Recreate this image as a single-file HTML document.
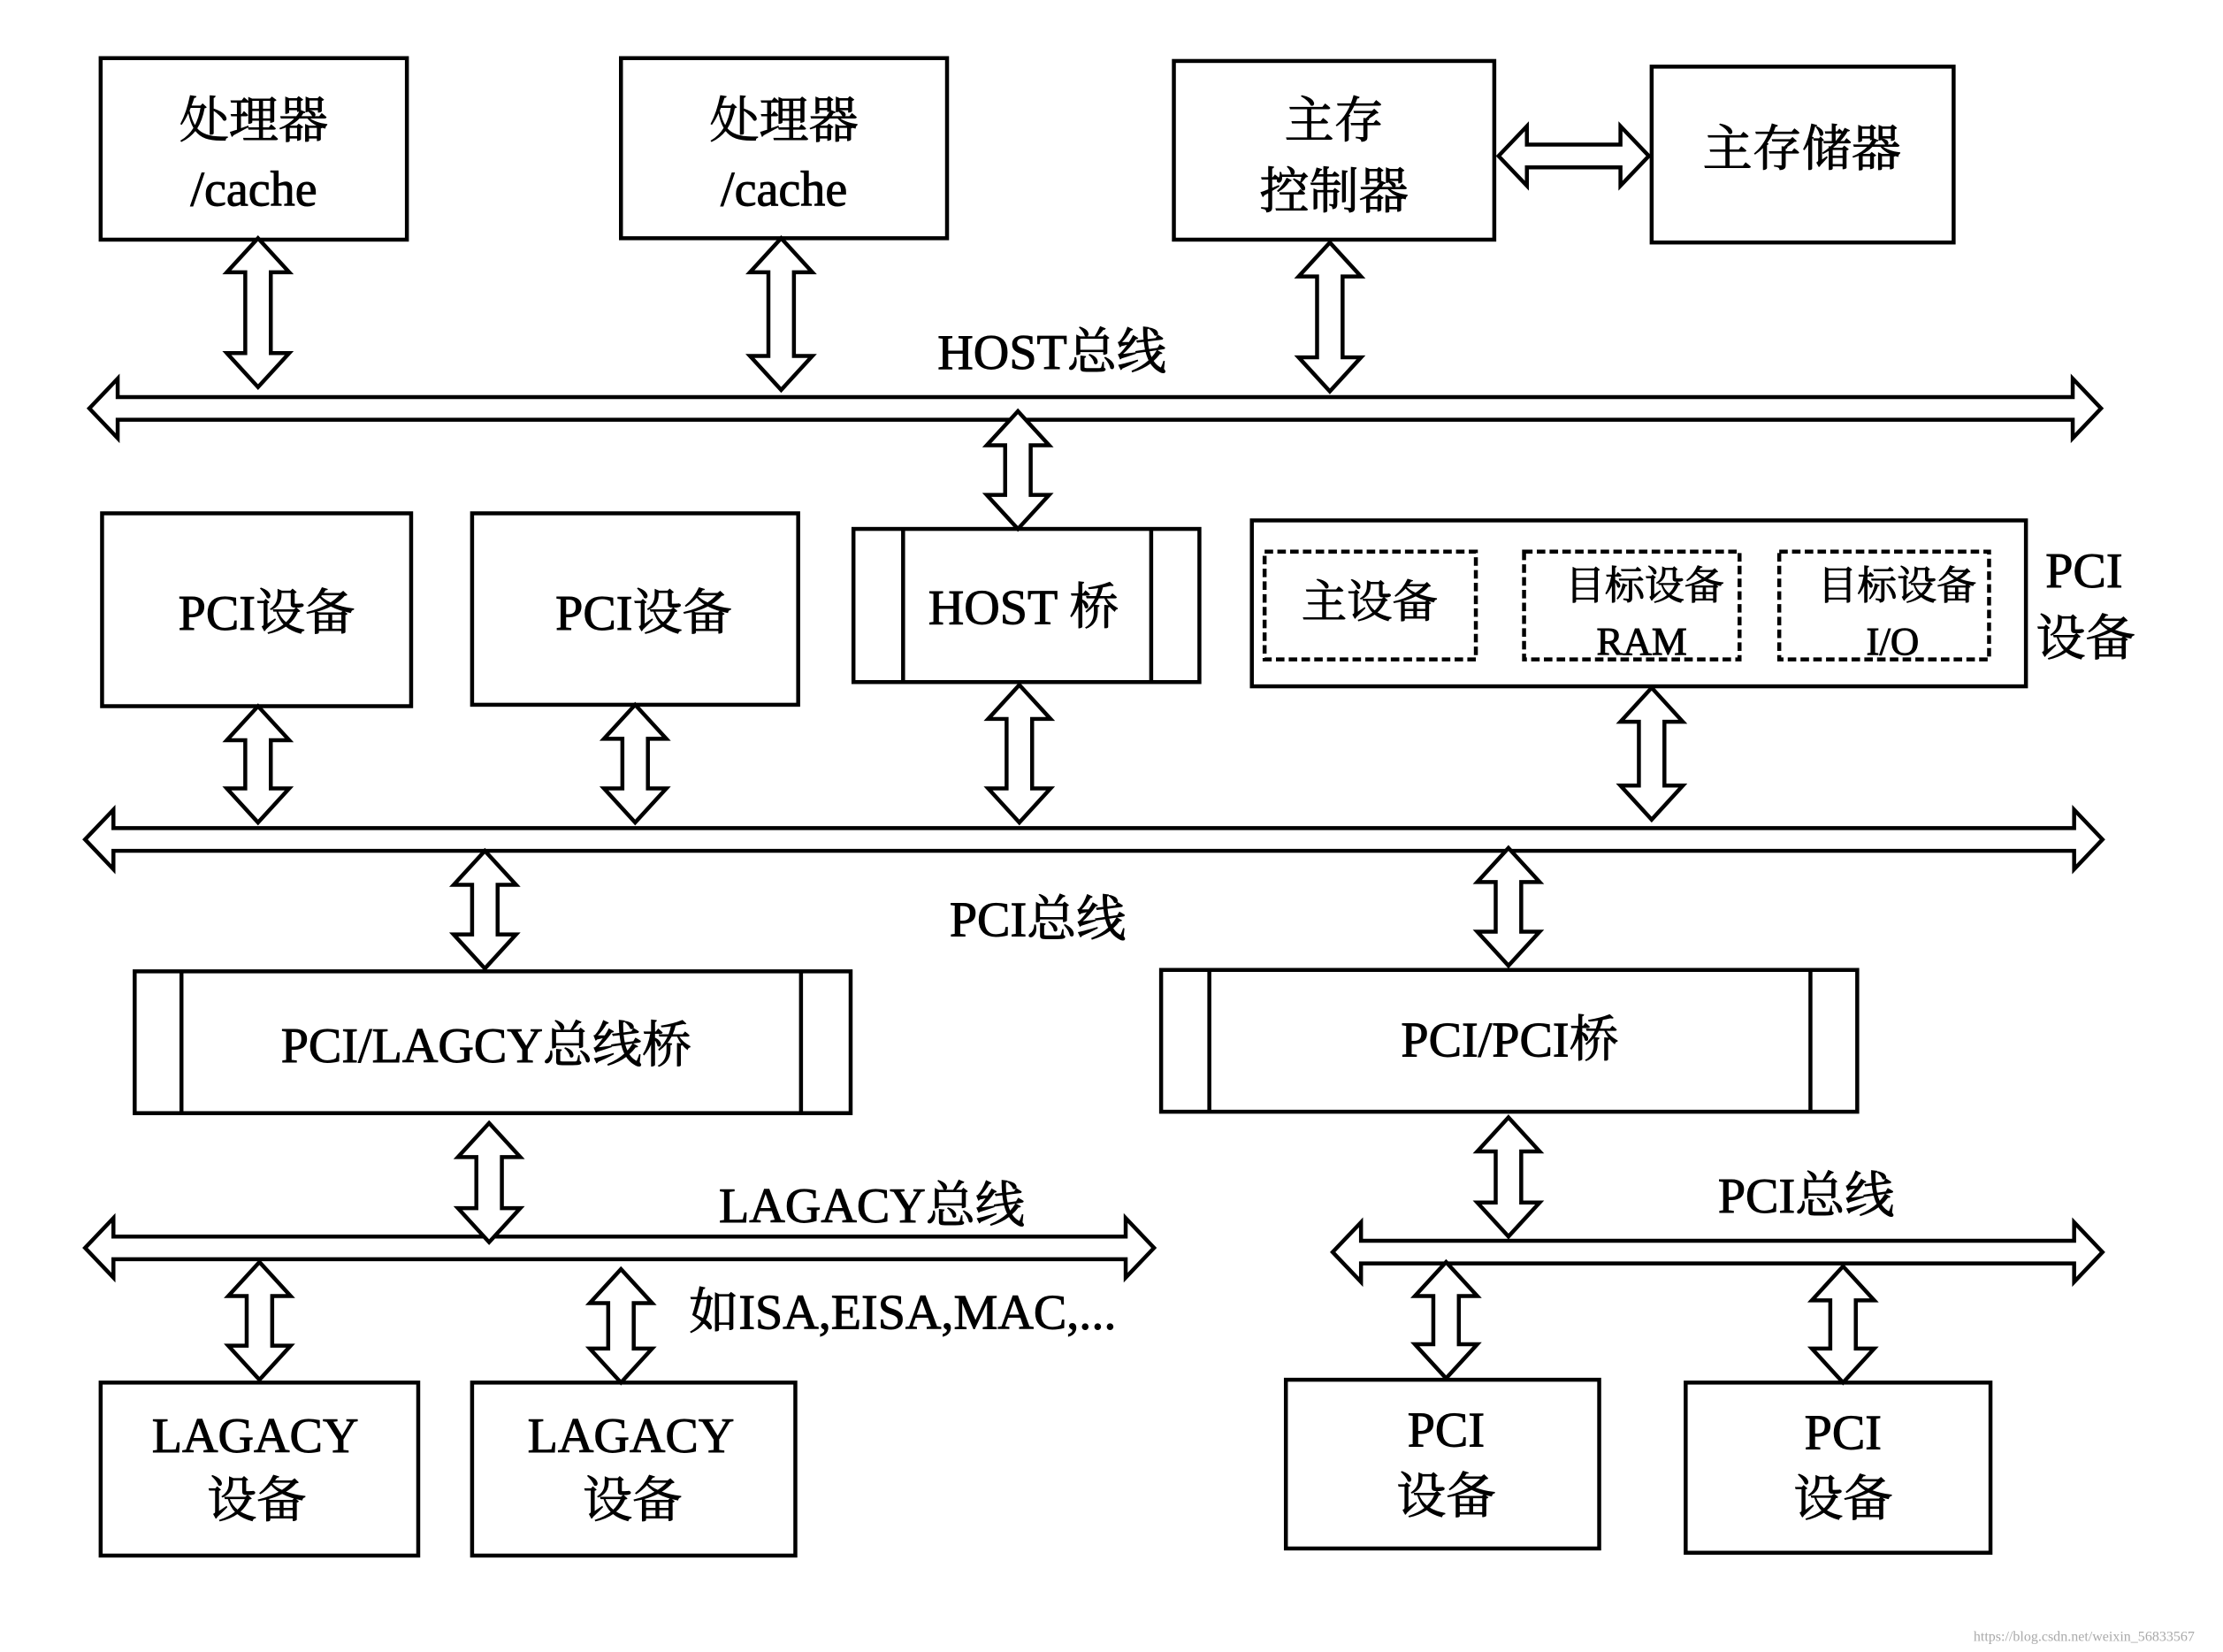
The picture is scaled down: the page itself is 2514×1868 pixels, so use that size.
<!DOCTYPE html>
<html><head><meta charset="utf-8"><style>
html,body{margin:0;padding:0;background:#fff;}
svg{display:block;}
text{font-family:"Liberation Serif","Noto Serif CJK SC","Noto Sans CJK SC",serif;fill:#000;text-anchor:middle;dominant-baseline:middle;stroke:#000;stroke-width:0.6;}
</style></head><body>
<svg id="s" width="2514" height="1868" viewBox="0 0 1568 1165" preserveAspectRatio="none" xmlns="http://www.w3.org/2000/svg">
<rect width="1568" height="1165" fill="#fff"/>
<g fill="none" stroke="#000" stroke-width="2.8">
<rect x="71" y="41" width="216" height="128"/>
<rect x="438" y="41" width="230" height="127"/>
<rect x="828" y="43" width="226" height="126"/>
<rect x="1165" y="47" width="213" height="124"/>
<rect x="72" y="362" width="218" height="136"/>
<rect x="333" y="362" width="230" height="135"/>
<rect x="602" y="373" width="244" height="108"/>
<line x1="637" y1="373" x2="637" y2="481"/><line x1="812" y1="373" x2="812" y2="481"/>
<rect x="883" y="367" width="546" height="117"/>
<g stroke-dasharray="6,3"><rect x="892" y="389" width="149" height="76"/><rect x="1075" y="389" width="152" height="76"/><rect x="1255" y="389" width="148" height="76"/></g>
<rect x="95" y="685" width="505" height="100"/>
<line x1="128" y1="685" x2="128" y2="785"/><line x1="565" y1="685" x2="565" y2="785"/>
<rect x="819" y="684" width="491" height="100"/>
<line x1="853" y1="684" x2="853" y2="784"/><line x1="1277" y1="684" x2="1277" y2="784"/>
<rect x="71" y="975" width="224" height="122"/>
<rect x="333" y="975" width="228" height="122"/>
<rect x="907" y="973" width="221" height="119"/>
<rect x="1189" y="975" width="215" height="120"/>
</g>
<g id="arr" fill="#fff" stroke="#000" stroke-width="2.8" stroke-linejoin="miter"></g>
<g font-size="35">
<text x="179" y="89">处理器</text><text x="179" y="137">/cache</text>
<text x="553" y="89">处理器</text><text x="553" y="137">/cache</text>
<text x="941" y="89">主存</text><text x="941" y="139">控制器</text>
<text x="1271" y="109">主存储器</text>
<text x="742" y="252">HOST总线</text>
<text x="188" y="436">PCI设备</text>
<text x="454" y="436">PCI设备</text>
<text x="722" y="432">HOST 桥</text>
<text x="966" y="428" font-size="32">主设备</text>
<text x="1160" y="416" font-size="28">目标设备</text><text x="1158" y="455" font-size="28">RAM</text>
<text x="1338" y="416" font-size="28">目标设备</text><text x="1335" y="455" font-size="28">I/O</text>
<text x="1470" y="406">PCI</text><text x="1471" y="454">设备</text>
<text x="732" y="652">PCI总线</text>
<text x="343" y="741">PCI/LAGCY总线桥</text>
<text x="1065" y="737">PCI/PCI桥</text>
<text x="615" y="854">LAGACY总线</text>
<text x="1274" y="847">PCI总线</text>
<text x="486" y="929" style="text-anchor:start">如ISA,EISA,MAC,...</text>
<text x="180" y="1016">LAGACY</text><text x="181" y="1062">设备</text>
<text x="445" y="1016">LAGACY</text><text x="446" y="1062">设备</text>
<text x="1020" y="1012">PCI</text><text x="1020" y="1059">设备</text>
<text x="1300" y="1014">PCI</text><text x="1300" y="1061">设备</text>
<text x="1470" y="1155" font-size="10" style="fill:#aaa;stroke:none">https://blog.csdn.net/weixin_56833567</text>
</g>
</svg>
<script>
var g=document.getElementById('arr');
function poly(p){var e=document.createElementNS('http://www.w3.org/2000/svg','polygon');e.setAttribute('points',p.map(function(a){return a.join(',')}).join(' '));g.appendChild(e);}
function v(x,y1,y2){var s=9,h=22,l=24;poly([[x,y1],[x+h,y1+l],[x+s,y1+l],[x+s,y2-l],[x+h,y2-l],[x,y2],[x-h,y2-l],[x-s,y2-l],[x-s,y1+l],[x-h,y1+l]]);}
function hz(x1,x2,y){var s=8,h=21,l=20;poly([[x1,y],[x1+l,y-h],[x1+l,y-s],[x2-l,y-s],[x2-l,y-h],[x2,y],[x2-l,y+h],[x2-l,y+s],[x1+l,y+s],[x1+l,y+h]]);}
hz(63,1482,288);hz(60,1483,592);hz(60,814,880);hz(940,1483,883);
hz(1057,1163,110);
v(182,168,273);v(551,168,275);v(938,171,276);v(718,290,373);
v(182,498,580);v(448,497,580);v(719,483,580);v(1165,485,578);
v(342,600,683);v(1064,598,681);
v(345,792,876);v(1064,788,872);
v(183,890,973);v(438,895,975);v(1020,890,972);v(1300,893,975);
</script>
</body></html>
